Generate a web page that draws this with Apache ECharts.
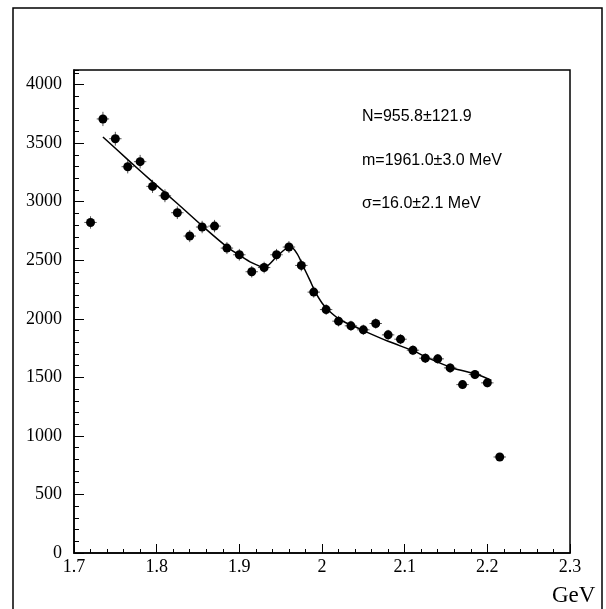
<!DOCTYPE html>
<html>
<head>
<meta charset="utf-8">
<script src="https://cdn.jsdelivr.net/npm/echarts@6/dist/echarts.min.js"></script>
<style>
  html, body { margin: 0; padding: 0; background: #fff; }
  #chart { width: 606px; height: 609px; }
</style>
</head>
<body>
<div id="chart"></div>
<script>
// bin centres (GeV) and counts
const massBins = [1.72, 1.735, 1.75, 1.765, 1.78, 1.795, 1.81, 1.825, 1.84, 1.855,
  1.87, 1.885, 1.90, 1.915, 1.93, 1.945, 1.96, 1.975, 1.99, 2.005,
  2.02, 2.035, 2.05, 2.065, 2.08, 2.095, 2.11, 2.125, 2.14, 2.155,
  2.17, 2.185, 2.20, 2.215];
const counts = [2823, 3707, 3538, 3299, 3342, 3131, 3051, 2906, 2707, 2784,
  2792, 2604, 2547, 2402, 2438, 2547, 2613, 2456, 2228, 2079,
  1980, 1940, 1906, 1960, 1863, 1826, 1732, 1664, 1658, 1581,
  1438, 1524, 1453, 820];
const countErr = [53, 61, 59, 57, 58, 56, 55, 54, 52, 53,
  53, 51, 50, 49, 49, 50, 51, 50, 47, 46,
  45, 44, 44, 44, 43, 43, 42, 41, 41, 40,
  38, 39, 38, 29];
const binHalf = 0.0075;

// fitted curve
const fitMass = [1.735, 1.765, 1.795, 1.825, 1.855, 1.885, 1.90, 1.915, 1.93, 1.945,
  1.955, 1.962, 1.97, 1.977, 1.985, 1.992, 2.0, 2.007, 2.022, 2.037,
  2.052, 2.08, 2.112, 2.128, 2.158, 2.187, 2.205];
const fitCounts = [3553, 3360, 3170, 2985, 2795, 2615, 2545, 2480, 2440, 2530,
  2592, 2615, 2555, 2452, 2335, 2228, 2135, 2078, 1992, 1942,
  1893, 1808, 1722, 1666, 1580, 1526, 1473];

const fitText = ['N=955.8\u00b1121.9', 'm=1961.0\u00b13.0 MeV', '\u03c3=16.0\u00b12.1 MeV'];

const xMin = 1.7, xMax = 2.3, xStep = 0.1;
const yMin = 0, yMax = 4125, yStep = 500, yMinorStep = 100;

const points = massBins.map((m, i) => [m, counts[i], countErr[i]]);
const fit = fitMass.map((m, i) => [m, fitCounts[i]]);

const serif = '"Liberation Serif", "Times New Roman", serif';
const sans = '"Liberation Sans", Arial, sans-serif';

const chart = echarts.init(document.getElementById('chart'));
chart.setOption({
  animation: false,
  backgroundColor: '#fff',
  grid: {
    left: 74, right: 36, top: 70, bottom: 56,
    show: true, borderColor: '#000', borderWidth: 1.5
  },
  xAxis: {
    type: 'value', min: xMin, max: xMax, interval: xStep,
    axisLine: { lineStyle: { color: '#000', width: 1.5 } },
    axisTick: { inside: true, length: 9, lineStyle: { color: '#000' } },
    minorTick: { show: true, splitNumber: 5, length: 4, lineStyle: { color: '#000' } },
    splitLine: { show: false },
    axisLabel: { color: '#000', fontFamily: serif, fontSize: 18, margin: 5 }
  },
  yAxis: [
    {
      type: 'value', min: yMin, max: yMax, interval: yStep, position: 'left',
      axisLine: { show: true, lineStyle: { color: '#000', width: 1.5 } },
      axisTick: { inside: true, length: 10, lineStyle: { color: '#000' } },
      splitLine: { show: false },
      axisLabel: {
        color: '#000', fontFamily: serif, fontSize: 18, margin: 12, showMaxLabel: false,
        formatter: v => String(v)
      }
    },
    {
      type: 'value', min: yMin, max: yMax, interval: yMinorStep, position: 'left',
      axisLine: { show: false },
      axisTick: { inside: true, length: 5, lineStyle: { color: '#000' } },
      splitLine: { show: false },
      axisLabel: { show: false }
    }
  ],
  graphic: [
    {
      type: 'rect', z: -10, silent: true,
      shape: { x: 13, y: 8, width: 589, height: 620 },
      style: { fill: null, stroke: '#000', lineWidth: 1.5 }
    },
    ...fitText.map((t, i) => ({
      type: 'text', left: 362, top: 109 + i * 43.5,
      style: { text: t, font: '16px ' + sans, fill: '#000' }
    })),
    {
      type: 'text', left: 552, top: 584,
      style: { text: 'GeV', font: '23px ' + serif, fill: '#000' }
    }
  ],
  series: [
    {
      type: 'custom', yAxisIndex: 0, data: points, z: 2,
      renderItem: (params, api) => {
        const x = api.value(0), y = api.value(1), e = api.value(2);
        const l = api.coord([x - binHalf, y]), r = api.coord([x + binHalf, y]);
        const t = api.coord([x, y + e]), b = api.coord([x, y - e]);
        const st = { stroke: '#555', lineWidth: 1 };
        return {
          type: 'group', children: [
            { type: 'line', shape: { x1: l[0], y1: l[1], x2: r[0], y2: r[1] }, style: st },
            { type: 'line', shape: { x1: t[0], y1: t[1], x2: b[0], y2: b[1] }, style: st }
          ]
        };
      }
    },
    {
      type: 'line', yAxisIndex: 0, data: fit, smooth: 0.3, showSymbol: false, z: 3,
      lineStyle: { color: '#000', width: 1.5 }
    },
    {
      type: 'scatter', yAxisIndex: 0, data: points, symbolSize: 9, z: 4,
      itemStyle: { color: '#000', opacity: 1 }
    }
  ]
});
</script>
</body>
</html>
